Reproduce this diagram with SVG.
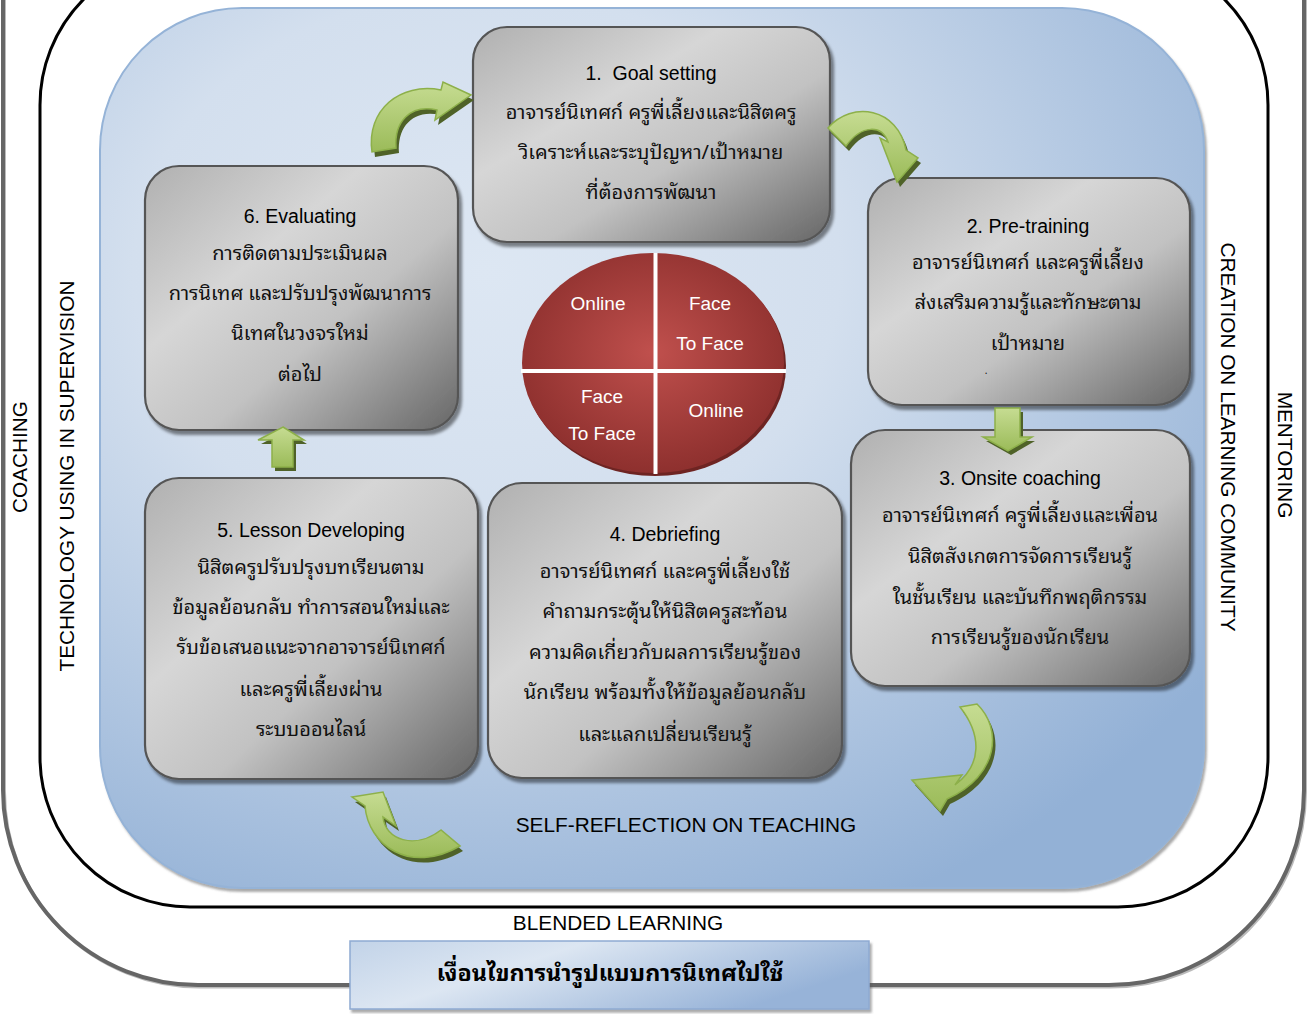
<svg xmlns="http://www.w3.org/2000/svg" width="1308" height="1014" viewBox="0 0 1308 1014">
<defs>
<radialGradient id="bgBlue" cx="0.35" cy="0.3" r="0.8">
<stop offset="0" stop-color="#dde7f3"/>
<stop offset="0.4" stop-color="#d3dfee"/>
<stop offset="1" stop-color="#93b1d6"/>
</radialGradient>
<linearGradient id="boxGrad" x1="0" y1="0" x2="1" y2="1">
<stop offset="0" stop-color="#b0b0b0"/>
<stop offset="0.35" stop-color="#d6d6d6"/>
<stop offset="0.6" stop-color="#c2c2c2"/>
<stop offset="1" stop-color="#666"/>
</linearGradient>
<radialGradient id="redGrad" cx="0.5" cy="0.45" r="0.55">
<stop offset="0" stop-color="#c0504d"/>
<stop offset="1" stop-color="#8e302e"/>
</radialGradient>
<linearGradient id="greenGrad" x1="0" y1="0" x2="0" y2="1">
<stop offset="0" stop-color="#c6dc92"/>
<stop offset="1" stop-color="#9bbb59"/>
</linearGradient>
<linearGradient id="titleGrad" x1="0" y1="0" x2="1" y2="0.4">
<stop offset="0" stop-color="#c2d3e8"/>
<stop offset="0.4" stop-color="#dce6f2"/>
<stop offset="1" stop-color="#97b3d8"/>
</linearGradient>
<filter id="shadow" x="-10%" y="-10%" width="125%" height="125%">
<feDropShadow dx="3" dy="4" stdDeviation="1.5" flood-color="#000" flood-opacity="0.45"/>
</filter>
<filter id="softShadow" x="-5%" y="-5%" width="115%" height="115%">
<feDropShadow dx="2" dy="3" stdDeviation="1" flood-color="#555" flood-opacity="0.5"/>
</filter>
<style>
.box { fill: url(#boxGrad); stroke: #555; stroke-width: 2.2; filter: url(#shadow); }
.head { font-family: "Liberation Sans", Arial, sans-serif; font-size: 19.5px; fill: #000; text-anchor: middle; }
.th { font-family: "Noto Sans Thai Looped", "Noto Sans Thai", "Liberation Sans", "DejaVu Sans", sans-serif; font-size: 20px; fill: #111; text-anchor: middle; }
.lbl { font-family: "Liberation Sans", Arial, sans-serif; font-size: 20.8px; fill: #000; text-anchor: middle; }
.wt { font-family: "Liberation Sans", Arial, sans-serif; font-size: 19px; fill: #fff; text-anchor: middle; }
.arrow { fill: url(#greenGrad); stroke: #8db04a; stroke-width: 1.5; }
.ashadow { fill: #4f6228; }
</style>
</defs>

<rect width="1308" height="1014" fill="#fff"/>

<!-- outer frames -->
<g id="frames">
<rect x="3" y="-200" width="1301" height="1185" rx="195" fill="none" stroke="#bbb" stroke-width="3" transform="translate(1.5,2)"/>
<rect x="3" y="-200" width="1301" height="1185" rx="195" fill="none" stroke="#666" stroke-width="4"/>
<rect x="40" y="-45" width="1228" height="952" rx="150" fill="none" stroke="#000" stroke-width="3"/>
<rect x="100" y="8" width="1104" height="880" rx="142" fill="url(#bgBlue)" stroke="#95b3d7" stroke-width="2" filter="url(#softShadow)"/>
</g>

<!-- labels -->
<g id="labels">
<text class="lbl" transform="translate(20,457) rotate(-90)" y="7">COACHING</text>
<text class="lbl" transform="translate(67,476) rotate(-90)" y="7">TECHNOLOGY USING IN SUPERVISION</text>
<text class="lbl" transform="translate(1228,437) rotate(90)" y="7">CREATION ON LEARNING COMMUNITY</text>
<text class="lbl" transform="translate(1285,455) rotate(90)" y="7">MENTORING</text>
<text class="lbl" x="686" y="832">SELF-REFLECTION ON TEACHING</text>
<text class="lbl" x="618" y="930">BLENDED LEARNING</text>
</g>

<!-- nodes -->
<g id="node1">
<rect class="box" x="473" y="27" width="357" height="215" rx="34"/>
<text class="head" x="651" y="80">1.&#160; Goal setting</text>
<text class="th" x="651" y="119">อาจารย์นิเทศก์ ครูพี่เลี้ยงและนิสิตครู</text>
<text class="th" x="651" y="159">วิเคราะห์และระบุปัญหา/เป้าหมาย</text>
<text class="th" x="651" y="199">ที่ต้องการพัฒนา</text>
</g>

<g id="node2">
<rect class="box" x="868" y="178" width="322" height="227" rx="34"/>
<text class="head" x="1028" y="233">2. Pre-training</text>
<text class="th" x="1028" y="269">อาจารย์นิเทศก์ และครูพี่เลี้ยง</text>
<text class="th" x="1028" y="309">ส่งเสริมความรู้และทักษะตาม</text>
<text class="th" x="1028" y="350">เป้าหมาย</text>
<text class="th" x="986" y="374" style="font-size:10px">.</text>
</g>

<g id="node3">
<rect class="box" x="851" y="430" width="339" height="256" rx="34"/>
<text class="head" x="1020" y="485">3. Onsite coaching</text>
<text class="th" x="1020" y="522">อาจารย์นิเทศก์ ครูพี่เลี้ยงและเพื่อน</text>
<text class="th" x="1020" y="563">นิสิตสังเกตการจัดการเรียนรู้</text>
<text class="th" x="1020" y="604">ในชั้นเรียน และบันทึกพฤติกรรม</text>
<text class="th" x="1020" y="644">การเรียนรู้ของนักเรียน</text>
</g>

<g id="node4">
<rect class="box" x="488" y="483" width="354" height="295" rx="34"/>
<text class="head" x="665" y="541">4. Debriefing</text>
<text class="th" x="665" y="578">อาจารย์นิเทศก์ และครูพี่เลี้ยงใช้</text>
<text class="th" x="665" y="618">คำถามกระตุ้นให้นิสิตครูสะท้อน</text>
<text class="th" x="665" y="659">ความคิดเกี่ยวกับผลการเรียนรู้ของ</text>
<text class="th" x="665" y="699">นักเรียน พร้อมทั้งให้ข้อมูลย้อนกลับ</text>
<text class="th" x="665" y="741">และแลกเปลี่ยนเรียนรู้</text>
</g>

<g id="node5">
<rect class="box" x="145" y="478" width="333" height="301" rx="34"/>
<text class="head" x="311" y="537">5. Lesson Developing</text>
<text class="th" x="311" y="574">นิสิตครูปรับปรุงบทเรียนตาม</text>
<text class="th" x="311" y="614">ข้อมูลย้อนกลับ ทำการสอนใหม่และ</text>
<text class="th" x="311" y="654">รับข้อเสนอแนะจากอาจารย์นิเทศก์</text>
<text class="th" x="311" y="696">และครูพี่เลี้ยงผ่าน</text>
<text class="th" x="311" y="736">ระบบออนไลน์</text>
</g>

<g id="node6">
<rect class="box" x="145" y="166" width="313" height="264" rx="34"/>
<text class="head" x="300" y="223">6. Evaluating</text>
<text class="th" x="300" y="260">การติดตามประเมินผล</text>
<text class="th" x="300" y="300">การนิเทศ และปรับปรุงพัฒนาการ</text>
<text class="th" x="300" y="340">นิเทศในวงจรใหม่</text>
<text class="th" x="300" y="381">ต่อไป</text>
</g>

<g id="center">
<ellipse cx="655" cy="366" rx="131" ry="110" fill="#6e2422"/>
<ellipse cx="653" cy="363" rx="131" ry="110" fill="url(#redGrad)"/>
<line x1="655.5" y1="253" x2="655.5" y2="474" stroke="#fff" stroke-width="4"/>
<line x1="521" y1="371" x2="786" y2="371" stroke="#fff" stroke-width="4"/>
<text class="wt" x="598" y="310">Online</text>
<text class="wt" x="710" y="310">Face</text>
<text class="wt" x="710" y="350">To Face</text>
<text class="wt" x="602" y="403">Face</text>
<text class="wt" x="602" y="440">To Face</text>
<text class="wt" x="716" y="417">Online</text>
</g>

<!-- connectors -->
<g id="connectors">
<!-- 6 -> 1 -->
<path class="ashadow" transform="translate(3,5)" d="M 372 152 C 366 110, 400 82, 441 90 L 443 82 L 471 95 L 435 120 L 437 110 C 410 104, 394 122, 396 148 Z"/>
<path class="arrow" d="M 372 152 C 366 110, 400 82, 441 90 L 443 82 L 471 95 L 435 120 L 437 110 C 410 104, 394 122, 396 148 Z"/>
<!-- 1 -> 2 -->
<path class="ashadow" transform="translate(3,5)" d="M 828 128 C 852 100, 898 108, 906 150 L 918 158 L 897 182 L 880 138 L 888 142 C 882 125, 862 124, 846 146 Z"/>
<path class="arrow" d="M 828 128 C 852 100, 898 108, 906 150 L 918 158 L 897 182 L 880 138 L 888 142 C 882 125, 862 124, 846 146 Z"/>
<!-- 2 -> 3 -->
<path class="ashadow" transform="translate(3,4)" d="M 995 408 L 1020 408 L 1020 437 L 1032 437 L 1008 451 L 983 437 L 995 437 Z"/>
<path class="arrow" d="M 995 408 L 1020 408 L 1020 437 L 1032 437 L 1008 451 L 983 437 L 995 437 Z"/>
<!-- 3 -> 4 -->
<path class="ashadow" transform="translate(3,5)" d="M 960 707 L 977 704 C 1002 728, 1000 775, 947 799 L 940 811 L 912 780 L 962 775 L 955 785 C 982 765, 982 735, 960 707 Z"/>
<path class="arrow" d="M 960 707 L 977 704 C 1002 728, 1000 775, 947 799 L 940 811 L 912 780 L 962 775 L 955 785 C 982 765, 982 735, 960 707 Z"/>
<!-- 4 -> 5 -->
<path class="ashadow" transform="translate(3,5)" d="M 352 797 L 383 792 L 396 826 L 383 817 C 385 840, 415 850, 441 830 L 460 846 C 410 875, 368 845, 365 806 Z"/>
<path class="arrow" d="M 352 797 L 383 792 L 396 826 L 383 817 C 385 840, 415 850, 441 830 L 460 846 C 410 875, 368 845, 365 806 Z"/>
<!-- 5 -> 6 -->
<path class="ashadow" transform="translate(3,4)" d="M 283 427 L 304 440 L 293 440 L 293 467 L 272 467 L 272 440 L 258 440 Z"/>
<path class="arrow" d="M 283 427 L 304 440 L 293 440 L 293 467 L 272 467 L 272 440 L 258 440 Z"/>
</g>

<g id="title">
<rect x="350" y="941" width="519" height="68" fill="url(#titleGrad)" stroke="#8eaad2" stroke-width="1.5" filter="url(#softShadow)"/>
<text x="610" y="981" style="font-family:'Noto Sans Thai Looped','Noto Sans Thai','Liberation Sans','DejaVu Sans',sans-serif;font-size:23.3px;font-weight:bold;fill:#000;text-anchor:middle">เงื่อนไขการนำรูปแบบการนิเทศไปใช้</text>
</g>
</svg>
